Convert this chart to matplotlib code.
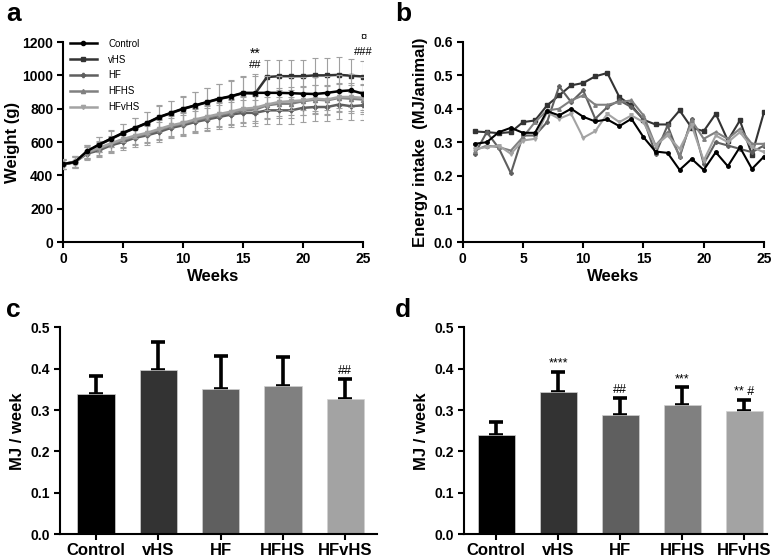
import numpy as np
import matplotlib
matplotlib.use('Agg')
import matplotlib.pyplot as plt
from matplotlib.lines import Line2D

plt.rcParams['font.family'] = ['Liberation Sans', 'DejaVu Sans']
plt.rcParams['axes.linewidth'] = 1.5

## Datos
groups = ['Control', 'vHS', 'HF', 'HFHS', 'HFvHS']
colors = ['#000000', '#333333', '#5f5f5f', '#808080', '#a3a3a3']
markers = ['o', 's', 'P', '^', 'v']

weeks_a = np.arange(0, 26)
weight = {
    'Control': [468, 480, 545, 585, 620, 655, 685, 715, 750, 775, 800, 820, 840, 860, 875, 895,
                895, 895, 895, 893, 890, 888, 895, 905, 910, 890],
    'vHS':     [466, 478, 543, 583, 618, 653, 683, 713, 748, 773, 798, 818, 838, 858, 873, 893,
                890, 990, 995, 995, 995, 1000, 1000, 1003, 998, 993],
    'HF':      [465, 480, 530, 550, 580, 600, 625, 640, 660, 685, 700, 720, 735, 750, 765, 775,
                775, 790, 790, 790, 805, 810, 810, 825, 815, 820],
    'HFHS':    [466, 482, 535, 560, 588, 612, 632, 650, 672, 695, 710, 730, 745, 762, 775, 790,
                795, 820, 830, 830, 845, 855, 850, 865, 860, 855],
    'HFvHS':   [467, 483, 538, 565, 592, 618, 638, 655, 678, 700, 715, 735, 752, 768, 782, 800,
                805, 825, 840, 845, 850, 860, 855, 870, 870, 865],
}
weight_sd = {
    'Control': [30, 35, 40, 45, 50, 55, 60, 65, 70, 72, 75, 80, 85, 90, 95, 100,
                100, 100, 100, 100, 100, 100, 100, 100, 100, 100],
    'vHS':     [30, 35, 40, 45, 50, 55, 60, 65, 70, 72, 75, 80, 85, 90, 95, 100,
                120, 100, 100, 100, 100, 105, 105, 105, 100, 95],
    'HF':      [28, 32, 38, 42, 45, 48, 52, 55, 58, 62, 65, 68, 70, 72, 75, 78,
                80, 80, 80, 80, 82, 82, 85, 85, 85, 85],
    'HFHS':    [28, 32, 38, 42, 45, 48, 52, 55, 58, 62, 65, 68, 70, 72, 75, 78,
                80, 82, 85, 85, 85, 85, 85, 85, 85, 85],
    'HFvHS':   [28, 32, 38, 42, 45, 48, 52, 55, 58, 62, 65, 68, 70, 72, 75, 78,
                80, 82, 85, 85, 85, 85, 85, 85, 85, 85],
}

weeks_b = np.arange(1, 26)
energy = {
    'Control': [0.295, 0.300, 0.330, 0.343, 0.328, 0.328, 0.393, 0.380, 0.400, 0.376, 0.362, 0.368, 0.348,
                0.370, 0.315, 0.272, 0.268, 0.217, 0.250, 0.217, 0.270, 0.228, 0.285, 0.220, 0.257],
    'vHS':     [0.332, 0.330, 0.327, 0.330, 0.360, 0.365, 0.410, 0.440, 0.470, 0.477, 0.497, 0.507, 0.435,
                0.410, 0.367, 0.353, 0.353, 0.395, 0.343, 0.333, 0.385, 0.305, 0.365, 0.263, 0.390],
    'HF':      [0.265, 0.330, 0.282, 0.207, 0.320, 0.320, 0.360, 0.467, 0.420, 0.455, 0.370, 0.405, 0.425,
                0.405, 0.370, 0.265, 0.350, 0.255, 0.370, 0.235, 0.300, 0.290, 0.280, 0.270, 0.290],
    'HFHS':    [0.275, 0.290, 0.285, 0.275, 0.315, 0.360, 0.395, 0.400, 0.425, 0.440, 0.412, 0.412, 0.420,
                0.425, 0.380, 0.290, 0.330, 0.260, 0.365, 0.310, 0.330, 0.310, 0.340, 0.295, 0.295],
    'HFvHS':   [0.280, 0.285, 0.290, 0.265, 0.305, 0.310, 0.390, 0.370, 0.385, 0.313, 0.333, 0.385, 0.360,
                0.380, 0.360, 0.290, 0.320, 0.280, 0.350, 0.245, 0.320, 0.300, 0.330, 0.285, 0.270],
}

mj_c = [0.340, 0.396, 0.351, 0.357, 0.327]
mj_c_err = [0.042, 0.069, 0.079, 0.071, 0.049]
mj_d = [0.241, 0.344, 0.287, 0.312, 0.297]
mj_d_err = [0.030, 0.049, 0.042, 0.043, 0.028]
sig_c = ['', '', '', '', '##']
sig_d = ['', '****', '##', '***', '** #']


def estilo(ax):
    ax.spines['top'].set_visible(False)
    ax.spines['right'].set_visible(False)
    ax.tick_params(width=1.5, length=4.5, labelsize=10, pad=2.5)
    for lab in ax.get_xticklabels() + ax.get_yticklabels():
        lab.set_fontweight('bold')


fig = plt.figure(figsize=(7.78, 5.58), dpi=100)

## Panel a
ax = fig.add_axes([0.081, 0.5663, 0.3856, 0.3584])
for g, c, m in zip(groups, colors, markers):
    ax.errorbar(weeks_a, weight[g], yerr=weight_sd[g], color=c, ecolor='#a0a0a0',
                elinewidth=0.8, capsize=2, capthick=0.8, lw=1.8, marker=m, ms=3,
                zorder=3 if g == 'Control' else 2)
handles = [Line2D([], [], color=c, marker=m, ms=3, lw=1.8) for c, m in zip(colors, markers)]
ax.legend(handles, groups, loc='upper left', bbox_to_anchor=(-0.005, 1.06), frameon=False,
          fontsize=7, handlelength=2.7, labelspacing=0.6, handletextpad=1.2)
ax.set_xlim(0, 25)
ax.set_ylim(0, 1200)
ax.set_xticks(range(0, 26, 5))
ax.set_yticks(range(0, 1201, 200))
ax.set_xlabel('Weeks', fontsize=12, fontweight='bold', labelpad=2)
ax.set_ylabel('Weight (g)', fontsize=12, fontweight='bold', labelpad=2)
ax.text(16, 1130, '**', ha='center', va='center', fontsize=10)
ax.text(16, 1065, '##', ha='center', va='center', fontsize=8)
ax.text(25, 1228, '¤', ha='center', va='center', fontsize=8)
ax.text(25, 1138, '###', ha='center', va='center', fontsize=8)
estilo(ax)
fig.text(0.008, 0.975, 'a', fontsize=19, fontweight='bold', va='center')

## Panel b
ax = fig.add_axes([0.5947, 0.5655, 0.3873, 0.3594])
for g, c, m in zip(groups, colors, markers):
    ax.plot(weeks_b, energy[g], color=c, lw=1.5, marker=m, ms=2.5,
            zorder=3 if g == 'Control' else 2)
ax.set_xlim(0, 25)
ax.set_ylim(0, 0.6)
ax.set_xticks(range(0, 26, 5))
ax.set_yticks(np.arange(0, 0.61, 0.1))
ax.set_yticklabels(['%.1f' % v for v in np.arange(0, 0.61, 0.1)])
ax.set_xlabel('Weeks', fontsize=12, fontweight='bold', labelpad=2)
ax.set_ylabel('Energy intake  (MJ/animal)', fontsize=12, fontweight='bold', labelpad=4)
estilo(ax)
fig.text(0.508, 0.975, 'b', fontsize=19, fontweight='bold', va='center')

## Paneles c y d
def barras(ax, vals, errs, sigs, xlim):
    x = np.arange(len(groups))
    ax.bar(x, vals, width=0.6, color=colors, edgecolor='#d0d0d0', lw=0.5, zorder=2)
    ax.errorbar(x, vals, yerr=[np.zeros(len(vals)), errs], fmt='none', ecolor='black',
                elinewidth=2.6, capsize=5, capthick=2.6, zorder=1)
    for xi, v, e, s in zip(x, vals, errs, sigs):
        if s:
            ax.text(xi, v + e + 0.004, s, ha='center', va='bottom', fontsize=9)
    ax.set_xlim(*xlim)
    ax.set_ylim(0, 0.5)
    ax.set_xticks(x)
    ax.set_xticklabels(groups)
    ax.set_yticks(np.arange(0, 0.51, 0.1))
    ax.set_yticklabels(['%.1f' % v for v in np.arange(0, 0.51, 0.1)])
    ax.set_ylabel('MJ / week', fontsize=12, fontweight='bold', labelpad=4)
    estilo(ax)
    ax.tick_params(axis='x', labelsize=12, pad=1.5)


ax = fig.add_axes([0.0771, 0.0425, 0.4075, 0.371])
barras(ax, mj_c, mj_c_err, sig_c, (-0.58, 4.51))
fig.text(0.008, 0.445, 'c', fontsize=19, fontweight='bold', va='center')

ax = fig.add_axes([0.5964, 0.0425, 0.389, 0.371])
barras(ax, mj_d, mj_d_err, sig_d, (-0.52, 4.36))
fig.text(0.508, 0.445, 'd', fontsize=19, fontweight='bold', va='center')

plt.savefig('out.png', dpi=100)
